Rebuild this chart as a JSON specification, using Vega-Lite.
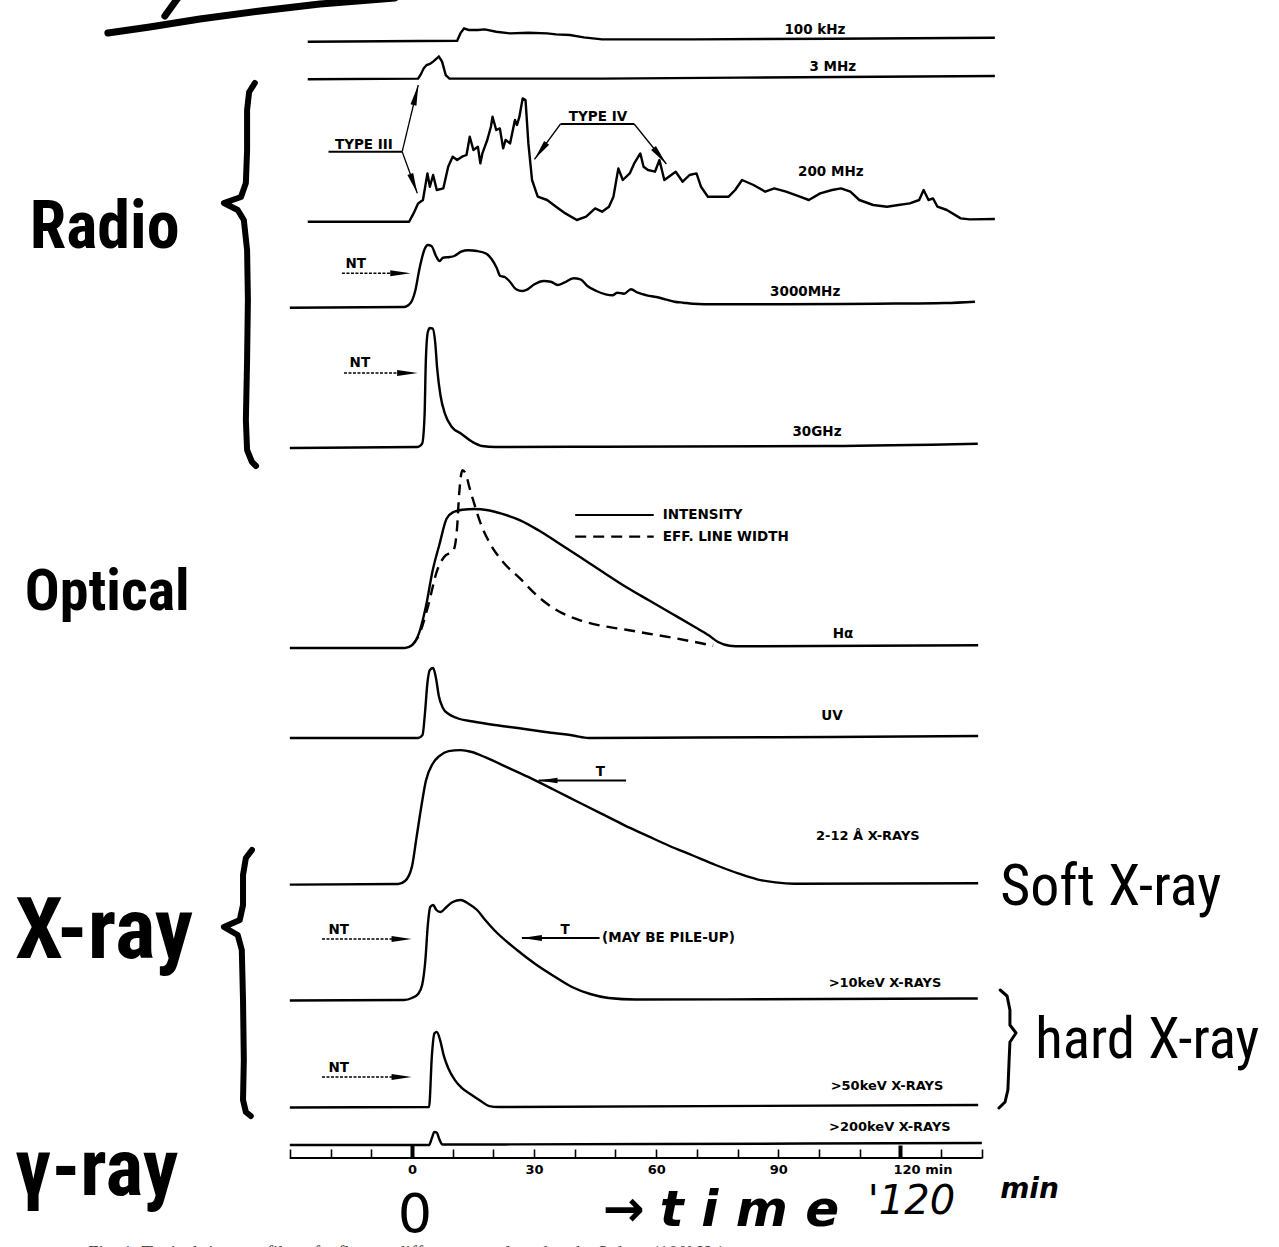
{
  "$schema": "https://vega.github.io/schema/vega-lite/v6.json",
  "background": "white",
  "padding": 0,
  "spacing": 0,
  "bounds": "flush",
  "config": {"view": {"stroke": null}},
  "datasets": {
    "f100kHz": [
      {"t": -25.6, "v": 0}, {"t": 11.1, "v": 1}, {"t": 11.9, "v": 8.3}, {"t": 12.8, "v": 13.3},
      {"t": 13.9, "v": 11.7}, {"t": 16.2, "v": 11.7}, {"t": 17.9, "v": 12.3}, {"t": 20.7, "v": 10},
      {"t": 24.1, "v": 8.3}, {"t": 28.6, "v": 9}, {"t": 33.2, "v": 8.3}, {"t": 35.4, "v": 7.3},
      {"t": 38.8, "v": 6.7}, {"t": 42.2, "v": 4.3}, {"t": 46.7, "v": 2.3}, {"t": 69.3, "v": 2.3},
      {"t": 103.2, "v": 3}, {"t": 143.2, "v": 4}
    ],
    "f3MHz": [
      {"t": -25.6, "v": 0}, {"t": 1.5, "v": 0.7}, {"t": 2.1, "v": 4.3}, {"t": 2.9, "v": 11},
      {"t": 3.6, "v": 14.3}, {"t": 4.4, "v": 15.3}, {"t": 5.2, "v": 17.7}, {"t": 6.6, "v": 22.7},
      {"t": 7.4, "v": 17.7}, {"t": 8.3, "v": 4.3}, {"t": 9.2, "v": 0.7}, {"t": 46.7, "v": 0.7},
      {"t": 80.6, "v": 1.7}, {"t": 143.2, "v": 3.3}
    ],
    "f200MHz": [
      {"t": -25.6, "v": 0}, {"t": -0.7, "v": 0}, {"t": 0.4, "v": 8.3}, {"t": 1.5, "v": 18.3},
      {"t": 2.7, "v": 21.7}, {"t": 3.8, "v": 48.3}, {"t": 4.4, "v": 35}, {"t": 5.2, "v": 46.7},
      {"t": 6.1, "v": 31.7}, {"t": 7.7, "v": 33.3}, {"t": 8.9, "v": 55}, {"t": 10.0, "v": 65},
      {"t": 11.1, "v": 61.7}, {"t": 12.3, "v": 65}, {"t": 13.4, "v": 66.7}, {"t": 14.2, "v": 85},
      {"t": 15.1, "v": 71.7}, {"t": 16.2, "v": 75}, {"t": 16.8, "v": 58.3}, {"t": 17.3, "v": 68.3},
      {"t": 18.5, "v": 81.7}, {"t": 19.4, "v": 95}, {"t": 19.8, "v": 105}, {"t": 20.7, "v": 91.7},
      {"t": 21.6, "v": 93.3}, {"t": 22.4, "v": 73.3}, {"t": 23.0, "v": 81.7}, {"t": 24.1, "v": 78.3},
      {"t": 25.3, "v": 101.7}, {"t": 25.8, "v": 96.7}, {"t": 26.4, "v": 105}, {"t": 27.2, "v": 123.3},
      {"t": 27.9, "v": 121.7}, {"t": 28.6, "v": 78.3}, {"t": 29.5, "v": 41.7}, {"t": 30.9, "v": 25},
      {"t": 33.2, "v": 21.7}, {"t": 35.4, "v": 15}, {"t": 37.7, "v": 8.3}, {"t": 40.5, "v": 1.7},
      {"t": 42.8, "v": 5}, {"t": 45.0, "v": 13.3}, {"t": 46.7, "v": 10}, {"t": 48.4, "v": 15},
      {"t": 49.5, "v": 25}, {"t": 50.7, "v": 53.3}, {"t": 51.8, "v": 41.7}, {"t": 53.5, "v": 48.3},
      {"t": 54.6, "v": 58.3}, {"t": 56.1, "v": 68.3}, {"t": 56.9, "v": 55}, {"t": 58.0, "v": 51.7},
      {"t": 59.7, "v": 50}, {"t": 60.8, "v": 61.7}, {"t": 62.0, "v": 41.7}, {"t": 64.8, "v": 50},
      {"t": 66.5, "v": 40}, {"t": 68.2, "v": 46.7}, {"t": 69.9, "v": 48.3}, {"t": 71.0, "v": 35},
      {"t": 72.7, "v": 25}, {"t": 76.1, "v": 25}, {"t": 77.8, "v": 25}, {"t": 79.4, "v": 31.7},
      {"t": 81.1, "v": 41.7}, {"t": 83.9, "v": 36.7}, {"t": 86.8, "v": 30}, {"t": 89.0, "v": 33.3},
      {"t": 91.9, "v": 30}, {"t": 95.3, "v": 25}, {"t": 97.5, "v": 21.7}, {"t": 100.3, "v": 28.3},
      {"t": 103.2, "v": 31.7}, {"t": 105.4, "v": 33.3}, {"t": 107.7, "v": 30}, {"t": 109.9, "v": 21.7},
      {"t": 113.3, "v": 16.7}, {"t": 116.7, "v": 15}, {"t": 119.5, "v": 16.7}, {"t": 122.3, "v": 18.3},
      {"t": 124.6, "v": 21.7}, {"t": 125.7, "v": 31.7}, {"t": 126.9, "v": 21.7}, {"t": 128.0, "v": 23.3},
      {"t": 129.1, "v": 15}, {"t": 131.4, "v": 11.7}, {"t": 134.8, "v": 3.3}, {"t": 137.0, "v": 2.3},
      {"t": 143.2, "v": 2.7}
    ],
    "f3000MHz": [
      {"t": -30, "v": -0.7}, {"t": -2.0, "v": 0}, {"t": -0.3, "v": 4.3}, {"t": 0.8, "v": 16},
      {"t": 1.9, "v": 39.3}, {"t": 3.1, "v": 57.7}, {"t": 3.9, "v": 62}, {"t": 4.8, "v": 61},
      {"t": 5.9, "v": 51}, {"t": 6.8, "v": 46}, {"t": 7.6, "v": 49.3}, {"t": 9.3, "v": 50},
      {"t": 10.4, "v": 51}, {"t": 12.1, "v": 55.3}, {"t": 13.8, "v": 56.7}, {"t": 16.0, "v": 56},
      {"t": 18.3, "v": 53.3}, {"t": 19.6, "v": 47.7}, {"t": 20.8, "v": 39.3}, {"t": 21.7, "v": 31},
      {"t": 22.8, "v": 30}, {"t": 23.9, "v": 26}, {"t": 25.6, "v": 17.7}, {"t": 27.1, "v": 16},
      {"t": 28.4, "v": 17.7}, {"t": 30.1, "v": 22.7}, {"t": 32.4, "v": 26}, {"t": 34.1, "v": 25.3},
      {"t": 35.8, "v": 22}, {"t": 37.4, "v": 24.3}, {"t": 39.7, "v": 28.7}, {"t": 41.4, "v": 27.7},
      {"t": 43.1, "v": 21}, {"t": 45.3, "v": 16}, {"t": 47.6, "v": 12.7}, {"t": 49.3, "v": 11.7},
      {"t": 50.4, "v": 14.3}, {"t": 52.1, "v": 13.3}, {"t": 53.8, "v": 17.7}, {"t": 55.5, "v": 14.3},
      {"t": 57.7, "v": 11.7}, {"t": 60.0, "v": 10}, {"t": 62.2, "v": 7.7}, {"t": 64.5, "v": 5.3},
      {"t": 66.7, "v": 4.3}, {"t": 69.0, "v": 3.3}, {"t": 74.6, "v": 2.7}, {"t": 91.5, "v": 2.7},
      {"t": 114.1, "v": 3.3}, {"t": 131.0, "v": 4}, {"t": 138.3, "v": 5.3}
    ],
    "f30GHz": [
      {"t": -30, "v": -1}, {"t": 1.4, "v": 0}, {"t": 2.5, "v": 3.3}, {"t": 3.1, "v": 31.7},
      {"t": 3.4, "v": 85}, {"t": 3.9, "v": 115}, {"t": 4.4, "v": 119}, {"t": 5.1, "v": 118.3},
      {"t": 5.7, "v": 105}, {"t": 6.2, "v": 78.3}, {"t": 7.0, "v": 51.7}, {"t": 8.1, "v": 33.3},
      {"t": 9.8, "v": 20}, {"t": 12.1, "v": 13.3}, {"t": 14.9, "v": 5}, {"t": 17.2, "v": 1},
      {"t": 20.5, "v": 0}, {"t": 46.5, "v": 0.3}, {"t": 102.8, "v": 1}, {"t": 139, "v": 3.3}
    ],
    "fHaIntensity": [
      {"t": -30, "v": -1}, {"t": -1.7, "v": -1}, {"t": 0, "v": 1.7}, {"t": 1.7, "v": 13.3},
      {"t": 3.4, "v": 40}, {"t": 5.1, "v": 76.7}, {"t": 6.8, "v": 103.3}, {"t": 8.5, "v": 128.3},
      {"t": 10.2, "v": 135}, {"t": 12.4, "v": 137.3}, {"t": 15.3, "v": 138}, {"t": 18.7, "v": 136.7},
      {"t": 22.0, "v": 133.3}, {"t": 26.6, "v": 126.7}, {"t": 31.1, "v": 116.7}, {"t": 35.6, "v": 105},
      {"t": 41.3, "v": 90}, {"t": 46.9, "v": 75}, {"t": 52.6, "v": 60}, {"t": 58.2, "v": 46.7},
      {"t": 63.9, "v": 33.3}, {"t": 69.5, "v": 20}, {"t": 72.9, "v": 11.7}, {"t": 75.2, "v": 5},
      {"t": 78.0, "v": 1.3}, {"t": 80.9, "v": 0.7}, {"t": 139.1, "v": 1.7}
    ],
    "fHaWidth": [
      {"t": 0, "v": 1.7}, {"t": 1.7, "v": 11.7}, {"t": 3.9, "v": 40}, {"t": 6.2, "v": 76.7},
      {"t": 7.9, "v": 90}, {"t": 10.2, "v": 96.7}, {"t": 11.1, "v": 120}, {"t": 11.6, "v": 153.3},
      {"t": 12.4, "v": 176.7}, {"t": 13.2, "v": 173.3}, {"t": 14.1, "v": 160}, {"t": 15.3, "v": 143.3},
      {"t": 16.9, "v": 123.3}, {"t": 19.2, "v": 103.3}, {"t": 22.0, "v": 86.7}, {"t": 26.6, "v": 68.3},
      {"t": 31.1, "v": 50}, {"t": 35.6, "v": 36.7}, {"t": 41.3, "v": 26.7}, {"t": 46.9, "v": 21},
      {"t": 52.6, "v": 17.3}, {"t": 58.2, "v": 13.3}, {"t": 63.9, "v": 9.3}, {"t": 69.5, "v": 5},
      {"t": 74.0, "v": 1.3}
    ],
    "fUV": [
      {"t": -30, "v": 0}, {"t": 1.5, "v": 0}, {"t": 2.6, "v": 3}, {"t": 3.2, "v": 25},
      {"t": 3.8, "v": 55}, {"t": 4.4, "v": 68}, {"t": 5.2, "v": 70}, {"t": 5.9, "v": 60},
      {"t": 6.6, "v": 42}, {"t": 7.6, "v": 30}, {"t": 9, "v": 24}, {"t": 11, "v": 20},
      {"t": 15, "v": 16.5}, {"t": 20.3, "v": 13}, {"t": 26, "v": 10}, {"t": 32.8, "v": 6},
      {"t": 39.6, "v": 2.5}, {"t": 43.5, "v": 0}, {"t": 70, "v": 0.5}, {"t": 103, "v": 1},
      {"t": 139.1, "v": 2}
    ],
    "fSXR": [
      {"t": -30, "v": -0.6}, {"t": -3.4, "v": 0}, {"t": -1.7, "v": 3}, {"t": 0, "v": 17.4},
      {"t": 1.1, "v": 45.9}, {"t": 2.3, "v": 77.5}, {"t": 3.4, "v": 102.8}, {"t": 5.1, "v": 120.3},
      {"t": 6.8, "v": 128.2}, {"t": 9.0, "v": 132.9}, {"t": 11.9, "v": 133.9}, {"t": 14.7, "v": 132},
      {"t": 18.1, "v": 126.6}, {"t": 23.7, "v": 116.1}, {"t": 29.4, "v": 105.4}, {"t": 35.0, "v": 94},
      {"t": 40.7, "v": 82.3}, {"t": 46.4, "v": 70.6}, {"t": 52.0, "v": 59.2}, {"t": 57.7, "v": 48.4},
      {"t": 63.3, "v": 38}, {"t": 69.0, "v": 28.5}, {"t": 74.6, "v": 19}, {"t": 80.3, "v": 10.4},
      {"t": 84.8, "v": 4.7}, {"t": 89.3, "v": 1.6}, {"t": 93.9, "v": 0.3}, {"t": 139.1, "v": 0.8}
    ],
    "f10keV": [
      {"t": -30, "v": -0.5}, {"t": -2, "v": 0}, {"t": 0, "v": 2}, {"t": 1.5, "v": 6},
      {"t": 2.5, "v": 15}, {"t": 3.3, "v": 40}, {"t": 3.9, "v": 75}, {"t": 4.5, "v": 93},
      {"t": 5.2, "v": 95}, {"t": 6, "v": 90}, {"t": 7, "v": 88}, {"t": 8.5, "v": 93},
      {"t": 10, "v": 98}, {"t": 12, "v": 100}, {"t": 14, "v": 96}, {"t": 16, "v": 90},
      {"t": 18, "v": 80}, {"t": 20.2, "v": 70}, {"t": 25.8, "v": 50}, {"t": 30.3, "v": 36},
      {"t": 34.8, "v": 24}, {"t": 39.3, "v": 13}, {"t": 43.8, "v": 6}, {"t": 48.3, "v": 2},
      {"t": 55, "v": 0.5}, {"t": 139, "v": 1.5}
    ],
    "f50keV": [
      {"t": -30, "v": -0.5}, {"t": 4.2, "v": 0}, {"t": 4.9, "v": 51.6}, {"t": 5.5, "v": 73.4},
      {"t": 6.1, "v": 75}, {"t": 6.9, "v": 67.2}, {"t": 7.8, "v": 51.6}, {"t": 8.9, "v": 39},
      {"t": 10.6, "v": 26.6}, {"t": 12.3, "v": 18.8}, {"t": 14.5, "v": 12.5}, {"t": 16.8, "v": 6.3},
      {"t": 19.0, "v": 0.9}, {"t": 21.3, "v": 0}, {"t": 139.1, "v": 2}
    ],
    "f200keV": [
      {"t": -30, "v": 0}, {"t": 4.2, "v": 0}, {"t": 4.9, "v": 7}, {"t": 5.5, "v": 13},
      {"t": 6.1, "v": 12.5}, {"t": 6.7, "v": 6}, {"t": 7.5, "v": 0.5}, {"t": 60, "v": 1},
      {"t": 140, "v": 2}
    ],
    "labels": [
      {"band": "100 kHz", "t": 99.0, "v": 11.7, "text": "100 kHz"},
      {"band": "3 MHz", "t": 103.4, "v": 12.3, "text": "3 MHz"},
      {"band": "200 MHz", "t": 102.9, "v": 49.7, "text": "200 MHz"},
      {"band": "3000MHz", "t": 96.6, "v": 15, "text": "3000MHz"},
      {"band": "30GHz", "t": 99.5, "v": 15, "text": "30GHz"},
      {"band": "Hα", "t": 105.9, "v": 13, "text": "Hα"},
      {"band": "UV", "t": 103.2, "v": 22, "text": "UV"},
      {"band": "2-12", "t": 112, "v": 48, "text": "2-12 Å X-RAYS"},
      {"band": "10keV", "t": 116.2, "v": 17, "text": ">10keV X-RAYS"},
      {"band": "50keV", "t": 116.7, "v": 21, "text": ">50keV X-RAYS"},
      {"band": "200keV", "t": 117.4, "v": 18, "text": ">200keV X-RAYS"}
    ],
    "notes": [
      {"band": "200 MHz", "t": -11.8, "v": 72.5, "text": "TYPE III"},
      {"band": "200 MHz", "t": 45.7, "v": 100.5, "text": "TYPE IV"},
      {"band": "3000MHz", "t": -13.8, "v": 39, "text": "NT"},
      {"band": "30GHz", "t": -12.8, "v": 80, "text": "NT"},
      {"band": "2-12", "t": 46.3, "v": 108, "text": "T"},
      {"band": "10keV", "t": -18, "v": 66, "text": "NT"},
      {"band": "10keV", "t": 37.6, "v": 66, "text": "T"},
      {"band": "50keV", "t": -18, "v": 35, "text": "NT"}
    ],
    "keys": [
      {"band": "Hα", "t": 61.6, "v": 132, "text": "INTENSITY"},
      {"band": "Hα", "t": 61.6, "v": 110.3, "text": "EFF. LINE WIDTH"},
      {"band": "10keV", "t": 46.7, "v": 62, "text": "(MAY BE PILE-UP)"}
    ],
    "segs": [
      {"band": "200 MHz", "kind": "under", "t": -20.5, "v": 70, "t2": -2.4, "v2": 70},
      {"band": "200 MHz", "kind": "thin", "t": -2.4, "v": 70, "t2": 1.55, "v2": 136.7},
      {"band": "200 MHz", "kind": "thin", "t": -2.4, "v": 70, "t2": 1.32, "v2": 28.4},
      {"band": "200 MHz", "kind": "under", "t": 36.5, "v": 97.7, "t2": 54.6, "v2": 97.7},
      {"band": "200 MHz", "kind": "thin", "t": 36.5, "v": 97.7, "t2": 30.1, "v2": 62.4},
      {"band": "200 MHz", "kind": "thin", "t": 54.6, "v": 97.7, "t2": 62.5, "v2": 57.7},
      {"band": "3000MHz", "kind": "dot", "t": -17.2, "v": 33.7, "t2": -3, "v2": 33.7},
      {"band": "30GHz", "kind": "dot", "t": -16.7, "v": 74, "t2": -1.5, "v2": 74},
      {"band": "Hα", "kind": "solid", "t": 40.1, "v": 132, "t2": 59.4, "v2": 132},
      {"band": "Hα", "kind": "dash", "t": 40.1, "v": 110.3, "t2": 59.4, "v2": 110.3},
      {"band": "2-12", "kind": "solid", "t": 31.1, "v": 103.5, "t2": 52.6, "v2": 103.5},
      {"band": "10keV", "kind": "dot", "t": -22.1, "v": 61, "t2": -3, "v2": 61},
      {"band": "10keV", "kind": "solid", "t": 27, "v": 62, "t2": 46.1, "v2": 62},
      {"band": "50keV", "kind": "dot", "t": -22.1, "v": 30, "t2": -3, "v2": 30},
      {"band": "200keV", "kind": "axis", "t": -30, "v": -13, "t2": 140, "v2": -13}
    ],
    "heads": [
      {"band": "200 MHz", "t": 1.55, "v": 136.7, "angle": -76.4},
      {"band": "200 MHz", "t": 1.32, "v": 28.4, "angle": 70.0},
      {"band": "200 MHz", "t": 30.1, "v": 62.4, "angle": 126.4},
      {"band": "200 MHz", "t": 62.5, "v": 57.7, "angle": 51.2},
      {"band": "3000MHz", "t": -0.3, "v": 33.7, "angle": 0},
      {"band": "30GHz", "t": 1.4, "v": 74, "angle": 0},
      {"band": "2-12", "t": 31.1, "v": 103.5, "angle": 180},
      {"band": "10keV", "t": -0.1, "v": 61, "angle": 0},
      {"band": "10keV", "t": 27, "v": 62, "angle": 180},
      {"band": "50keV", "t": -0.1, "v": 30, "angle": 0}
    ],
    "strokes": [
      {"id": "pen1", "o": 1, "t": -74.7, "v": 8.7}, {"id": "pen1", "o": 2, "t": -64.4, "v": 14.7},
      {"id": "pen1", "o": 3, "t": -52.1, "v": 22.7}, {"id": "pen1", "o": 4, "t": -37.3, "v": 30.7},
      {"id": "pen1", "o": 5, "t": -22.6, "v": 37.7}, {"id": "pen1", "o": 6, "t": -4.2, "v": 43.7},
      {"id": "pen2", "o": 1, "t": -60.7, "v": 25.7}, {"id": "pen2", "o": 2, "t": -57.5, "v": 43.7},
      {"id": "radio", "o": 1, "t": -38.6, "v": 138.7}, {"id": "radio", "o": 2, "t": -40.0, "v": 129.7},
      {"id": "radio", "o": 3, "t": -40.5, "v": 111.7}, {"id": "radio", "o": 4, "t": -40.5, "v": 71.7},
      {"id": "radio", "o": 5, "t": -40.8, "v": 38.7}, {"id": "radio", "o": 6, "t": -42.0, "v": 24.7},
      {"id": "radio", "o": 7, "t": -46.2, "v": 18.7}, {"id": "radio", "o": 8, "t": -42.8, "v": 11.7},
      {"id": "radio", "o": 9, "t": -41.3, "v": 1.7}, {"id": "radio", "o": 10, "t": -40.5, "v": -28.3},
      {"id": "radio", "o": 11, "t": -40.3, "v": -78.3}, {"id": "radio", "o": 12, "t": -40.5, "v": -138.3},
      {"id": "radio", "o": 13, "t": -40.8, "v": -198.3}, {"id": "radio", "o": 14, "t": -40.5, "v": -228.3},
      {"id": "radio", "o": 15, "t": -39.3, "v": -240.3}, {"id": "radio", "o": 16, "t": -38.3, "v": -244.3},
      {"id": "xray", "o": 1, "t": -39.3, "v": 150}, {"id": "xray", "o": 2, "t": -40.8, "v": 142},
      {"id": "xray", "o": 3, "t": -41.5, "v": 125}, {"id": "xray", "o": 4, "t": -41.5, "v": 95},
      {"id": "xray", "o": 5, "t": -42.3, "v": 80}, {"id": "xray", "o": 6, "t": -46.2, "v": 73},
      {"id": "xray", "o": 7, "t": -42.8, "v": 65}, {"id": "xray", "o": 8, "t": -41.8, "v": 50},
      {"id": "xray", "o": 9, "t": -41.5, "v": 0}, {"id": "xray", "o": 10, "t": -41.3, "v": -60},
      {"id": "xray", "o": 11, "t": -41.5, "v": -100}, {"id": "xray", "o": 12, "t": -40.8, "v": -112},
      {"id": "xray", "o": 13, "t": -39.6, "v": -116},
      {"id": "hard", "o": 1, "t": 144.5, "v": 117}, {"id": "hard", "o": 2, "t": 146.2, "v": 111},
      {"id": "hard", "o": 3, "t": 146.9, "v": 97}, {"id": "hard", "o": 4, "t": 146.9, "v": 82},
      {"id": "hard", "o": 5, "t": 148.4, "v": 74}, {"id": "hard", "o": 6, "t": 146.9, "v": 65},
      {"id": "hard", "o": 7, "t": 146.7, "v": 47}, {"id": "hard", "o": 8, "t": 146.4, "v": 17},
      {"id": "hard", "o": 9, "t": 145.7, "v": 5}, {"id": "hard", "o": 10, "t": 144.2, "v": -1}
    ],
    "hand": [
      {"t": -93.9, "v": -26.3, "text": "Radio"},
      {"t": -95.1, "v": 37, "text": "Optical"},
      {"t": -97.5, "v": 42, "text": "X-ray"},
      {"t": -97.5, "v": 52, "text": "γ-ray"},
      {"t": 144.5, "v": -21, "text": "Soft X-ray"},
      {"t": 153.1, "v": 49, "text": "hard X-ray"},
      {"t": 0.7, "v": 15, "text": "0"},
      {"t": 46.9, "v": 36, "text": "→"},
      {"t": 60.9, "v": 21, "text": "t i m e"},
      {"t": 112, "v": 33, "text": "'120"},
      {"t": 144.5, "v": 49, "text": "min"},
      {"t": -79.6, "v": -12, "text": "Fig. 1. Typical time profiles of a flare at different wavelengths; the 3 days (100kHz)"}
    ]
  },
  "vconcat": [
    {
      "width": 1279, "height": 50,
      "encoding": {
        "x": {"field": "t", "type": "quantitative", "scale": {"domain": [-101.2, 213], "nice": false, "zero": false}, "axis": null},
        "y": {"field": "v", "type": "quantitative", "scale": {"domain": [-8.3, 41.7], "nice": false, "zero": false}, "axis": null}
      },
      "layer": [
        {"data": {"name": "f100kHz"}, "mark": {"type": "line", "color": "#000", "strokeWidth": 2.4, "interpolate": "linear"}},
        {"data": {"name": "labels"}, "transform": [{"filter": "datum.band === '100 kHz'"}],
         "mark": {"type": "text", "font": "DejaVu Sans", "fontWeight": "bold", "fontSize": 13.5, "align": "center", "baseline": "middle", "color": "#000"},
         "encoding": {"text": {"field": "text"}}},
        {"data": {"name": "strokes"}, "transform": [{"filter": "datum.id === 'pen1' || datum.id === 'pen2'"}],
         "mark": {"type": "line", "color": "#000", "strokeWidth": 7, "strokeCap": "round", "strokeJoin": "round", "clip": true},
         "encoding": {"detail": {"field": "id"}, "order": {"field": "o", "type": "quantitative"}}}
      ]
    },
    {
      "width": 1279, "height": 38,
      "encoding": {
        "x": {"field": "t", "type": "quantitative", "scale": {"domain": [-101.2, 213], "nice": false, "zero": false}, "axis": null},
        "y": {"field": "v", "type": "quantitative", "scale": {"domain": [-8.7, 29.3], "nice": false, "zero": false}, "axis": null}
      },
      "layer": [
        {"data": {"name": "f3MHz"}, "mark": {"type": "line", "color": "#000", "strokeWidth": 2.4, "interpolate": "linear"}},
        {"data": {"name": "labels"}, "transform": [{"filter": "datum.band === '3 MHz'"}],
         "mark": {"type": "text", "font": "DejaVu Sans", "fontWeight": "bold", "fontSize": 13.5, "align": "center", "baseline": "middle", "color": "#000"},
         "encoding": {"text": {"field": "text"}}}
      ]
    },
    {
      "width": 1279, "height": 144,
      "encoding": {
        "x": {"field": "t", "type": "quantitative", "scale": {"domain": [-101.2, 213], "nice": false, "zero": false}, "axis": null},
        "y": {"field": "v", "type": "quantitative", "scale": {"domain": [-10.3, 133.7], "nice": false, "zero": false}, "axis": null}
      },
      "layer": [
        {"data": {"name": "f200MHz"}, "mark": {"type": "line", "color": "#000", "strokeWidth": 2.4, "interpolate": "linear", "strokeJoin": "round"}},
        {"data": {"name": "labels"}, "transform": [{"filter": "datum.band === '200 MHz'"}],
         "mark": {"type": "text", "font": "DejaVu Sans", "fontWeight": "bold", "fontSize": 13.5, "align": "center", "baseline": "middle", "color": "#000"},
         "encoding": {"text": {"field": "text"}}},
        {"data": {"name": "segs"}, "transform": [{"filter": "datum.band === '200 MHz' && datum.kind === 'thin'"}],
         "mark": {"type": "rule", "color": "#000", "strokeWidth": 1.3},
         "encoding": {"x2": {"field": "t2"}, "y2": {"field": "v2"}}},
        {"data": {"name": "segs"}, "transform": [{"filter": "datum.band === '200 MHz' && datum.kind === 'under'"}],
         "mark": {"type": "rule", "color": "#000", "strokeWidth": 2},
         "encoding": {"x2": {"field": "t2"}, "y2": {"field": "v2"}}},
        {"data": {"name": "heads"}, "transform": [{"filter": "datum.band === '200 MHz'"}],
         "mark": {"type": "point", "shape": "M0,0L-2,-0.3L-2,0.3Z", "filled": true, "size": 420, "color": "#000", "opacity": 1},
         "encoding": {"angle": {"field": "angle", "type": "quantitative", "scale": null}}},
        {"data": {"name": "notes"}, "transform": [{"filter": "datum.band === '200 MHz'"}],
         "mark": {"type": "text", "font": "DejaVu Sans", "fontWeight": "bold", "fontSize": 13.5, "align": "center", "baseline": "alphabetic", "color": "#000"},
         "encoding": {"text": {"field": "text"}}},
        {"data": {"name": "strokes"}, "transform": [{"filter": "datum.id === 'radio'"}],
         "mark": {"type": "line", "color": "#000", "strokeWidth": 6, "strokeCap": "round", "strokeJoin": "round"},
         "encoding": {"order": {"field": "o", "type": "quantitative"}}},
        {"data": {"name": "hand"}, "transform": [{"filter": "datum.text === 'Radio'"}],
         "mark": {"type": "text", "font": "Liberation Sans Narrow, Roboto Condensed, DejaVu Sans Condensed, Liberation Sans", "fontWeight": "bold", "fontSize": 66, "align": "left", "baseline": "alphabetic", "color": "#000"},
         "encoding": {"text": {"field": "text"}}}
      ]
    },
    {
      "width": 1279, "height": 83,
      "encoding": {
        "x": {"field": "t", "type": "quantitative", "scale": {"domain": [-101.2, 213], "nice": false, "zero": false}, "axis": null},
        "y": {"field": "v", "type": "quantitative", "scale": {"domain": [-8, 75], "nice": false, "zero": false}, "axis": null}
      },
      "layer": [
        {"data": {"name": "f3000MHz"}, "mark": {"type": "line", "color": "#000", "strokeWidth": 2.4, "interpolate": "monotone"}},
        {"data": {"name": "labels"}, "transform": [{"filter": "datum.band === '3000MHz'"}],
         "mark": {"type": "text", "font": "DejaVu Sans", "fontWeight": "bold", "fontSize": 13.5, "align": "center", "baseline": "middle", "color": "#000"},
         "encoding": {"text": {"field": "text"}}},
        {"data": {"name": "segs"}, "transform": [{"filter": "datum.band === '3000MHz' && datum.kind === 'dot'"}],
         "mark": {"type": "rule", "color": "#000", "strokeWidth": 1.4, "strokeDash": [3, 1.5]},
         "encoding": {"x2": {"field": "t2"}, "y2": {"field": "v2"}}},
        {"data": {"name": "heads"}, "transform": [{"filter": "datum.band === '3000MHz'"}],
         "mark": {"type": "point", "shape": "M0,0L-2,-0.3L-2,0.3Z", "filled": true, "size": 420, "color": "#000", "opacity": 1},
         "encoding": {"angle": {"field": "angle", "type": "quantitative", "scale": null}}},
        {"data": {"name": "notes"}, "transform": [{"filter": "datum.band === '3000MHz'"}],
         "mark": {"type": "text", "font": "DejaVu Sans", "fontWeight": "bold", "fontSize": 13.5, "align": "center", "baseline": "alphabetic", "color": "#000"},
         "encoding": {"text": {"field": "text"}}}
      ]
    },
    {
      "width": 1279, "height": 141,
      "encoding": {
        "x": {"field": "t", "type": "quantitative", "scale": {"domain": [-101.2, 213], "nice": false, "zero": false}, "axis": null},
        "y": {"field": "v", "type": "quantitative", "scale": {"domain": [-9, 132], "nice": false, "zero": false}, "axis": null}
      },
      "layer": [
        {"data": {"name": "f30GHz"}, "mark": {"type": "line", "color": "#000", "strokeWidth": 2.4, "interpolate": "monotone"}},
        {"data": {"name": "labels"}, "transform": [{"filter": "datum.band === '30GHz'"}],
         "mark": {"type": "text", "font": "DejaVu Sans", "fontWeight": "bold", "fontSize": 13.5, "align": "center", "baseline": "middle", "color": "#000"},
         "encoding": {"text": {"field": "text"}}},
        {"data": {"name": "segs"}, "transform": [{"filter": "datum.band === '30GHz' && datum.kind === 'dot'"}],
         "mark": {"type": "rule", "color": "#000", "strokeWidth": 1.4, "strokeDash": [3, 1.5]},
         "encoding": {"x2": {"field": "t2"}, "y2": {"field": "v2"}}},
        {"data": {"name": "heads"}, "transform": [{"filter": "datum.band === '30GHz'"}],
         "mark": {"type": "point", "shape": "M0,0L-2,-0.3L-2,0.3Z", "filled": true, "size": 420, "color": "#000", "opacity": 1},
         "encoding": {"angle": {"field": "angle", "type": "quantitative", "scale": null}}},
        {"data": {"name": "notes"}, "transform": [{"filter": "datum.band === '30GHz'"}],
         "mark": {"type": "text", "font": "DejaVu Sans", "fontWeight": "bold", "fontSize": 13.5, "align": "center", "baseline": "alphabetic", "color": "#000"},
         "encoding": {"text": {"field": "text"}}}
      ]
    },
    {
      "width": 1279, "height": 200,
      "encoding": {
        "x": {"field": "t", "type": "quantitative", "scale": {"domain": [-101.2, 213], "nice": false, "zero": false}, "axis": null},
        "y": {"field": "v", "type": "quantitative", "scale": {"domain": [-9, 191], "nice": false, "zero": false}, "axis": null}
      },
      "layer": [
        {"data": {"name": "fHaIntensity"}, "mark": {"type": "line", "color": "#000", "strokeWidth": 2.4, "interpolate": "monotone"}},
        {"data": {"name": "fHaWidth"}, "mark": {"type": "line", "color": "#000", "strokeWidth": 2.4, "interpolate": "monotone", "strokeDash": [11, 7]}},
        {"data": {"name": "labels"}, "transform": [{"filter": "datum.band === 'Hα'"}],
         "mark": {"type": "text", "font": "DejaVu Sans", "fontWeight": "bold", "fontSize": 13.5, "align": "center", "baseline": "middle", "color": "#000"},
         "encoding": {"text": {"field": "text"}}},
        {"data": {"name": "segs"}, "transform": [{"filter": "datum.band === 'Hα' && datum.kind === 'solid'"}],
         "mark": {"type": "rule", "color": "#000", "strokeWidth": 2.2},
         "encoding": {"x2": {"field": "t2"}, "y2": {"field": "v2"}}},
        {"data": {"name": "segs"}, "transform": [{"filter": "datum.band === 'Hα' && datum.kind === 'dash'"}],
         "mark": {"type": "rule", "color": "#000", "strokeWidth": 2.2, "strokeDash": [11, 7]},
         "encoding": {"x2": {"field": "t2"}, "y2": {"field": "v2"}}},
        {"data": {"name": "keys"}, "transform": [{"filter": "datum.band === 'Hα'"}],
         "mark": {"type": "text", "font": "DejaVu Sans", "fontWeight": "bold", "fontSize": 13.5, "align": "left", "baseline": "middle", "color": "#000"},
         "encoding": {"text": {"field": "text"}}},
        {"data": {"name": "hand"}, "transform": [{"filter": "datum.text === 'Optical'"}],
         "mark": {"type": "text", "font": "Liberation Sans Narrow, Roboto Condensed, DejaVu Sans Condensed, Liberation Sans", "fontWeight": "bold", "fontSize": 58, "align": "left", "baseline": "alphabetic", "color": "#000"},
         "encoding": {"text": {"field": "text"}}}
      ]
    },
    {
      "width": 1279, "height": 90,
      "encoding": {
        "x": {"field": "t", "type": "quantitative", "scale": {"domain": [-101.2, 213], "nice": false, "zero": false}, "axis": null},
        "y": {"field": "v", "type": "quantitative", "scale": {"domain": [-8, 82], "nice": false, "zero": false}, "axis": null}
      },
      "layer": [
        {"data": {"name": "fUV"}, "mark": {"type": "line", "color": "#000", "strokeWidth": 2.4, "interpolate": "monotone"}},
        {"data": {"name": "labels"}, "transform": [{"filter": "datum.band === 'UV'"}],
         "mark": {"type": "text", "font": "DejaVu Sans", "fontWeight": "bold", "fontSize": 13.5, "align": "center", "baseline": "middle", "color": "#000"},
         "encoding": {"text": {"field": "text"}}}
      ]
    },
    {
      "width": 1279, "height": 146,
      "encoding": {
        "x": {"field": "t", "type": "quantitative", "scale": {"domain": [-101.2, 213], "nice": false, "zero": false}, "axis": null},
        "y": {"field": "v", "type": "quantitative", "scale": {"domain": [-8, 138], "nice": false, "zero": false}, "axis": null}
      },
      "layer": [
        {"data": {"name": "fSXR"}, "mark": {"type": "line", "color": "#000", "strokeWidth": 2.4, "interpolate": "monotone"}},
        {"data": {"name": "labels"}, "transform": [{"filter": "datum.band === '2-12'"}],
         "mark": {"type": "text", "font": "DejaVu Sans", "fontWeight": "bold", "fontSize": 13, "align": "center", "baseline": "middle", "color": "#000"},
         "encoding": {"text": {"field": "text"}}},
        {"data": {"name": "segs"}, "transform": [{"filter": "datum.band === '2-12' && datum.kind === 'solid'"}],
         "mark": {"type": "rule", "color": "#000", "strokeWidth": 2},
         "encoding": {"x2": {"field": "t2"}, "y2": {"field": "v2"}}},
        {"data": {"name": "heads"}, "transform": [{"filter": "datum.band === '2-12'"}],
         "mark": {"type": "point", "shape": "M0,0L-2,-0.3L-2,0.3Z", "filled": true, "size": 360, "color": "#000", "opacity": 1},
         "encoding": {"angle": {"field": "angle", "type": "quantitative", "scale": null}}},
        {"data": {"name": "notes"}, "transform": [{"filter": "datum.band === '2-12'"}],
         "mark": {"type": "text", "font": "DejaVu Sans", "fontWeight": "bold", "fontSize": 13.5, "align": "center", "baseline": "alphabetic", "color": "#000"},
         "encoding": {"text": {"field": "text"}}},
        {"data": {"name": "hand"}, "transform": [{"filter": "datum.text === 'Soft X-ray'"}],
         "mark": {"type": "text", "font": "Liberation Sans Narrow, Roboto Condensed, DejaVu Sans Condensed, Liberation Sans", "fontSize": 58, "align": "left", "baseline": "alphabetic", "color": "#000"},
         "encoding": {"text": {"field": "text"}}}
      ]
    },
    {
      "width": 1279, "height": 118,
      "encoding": {
        "x": {"field": "t", "type": "quantitative", "scale": {"domain": [-101.2, 213], "nice": false, "zero": false}, "axis": null},
        "y": {"field": "v", "type": "quantitative", "scale": {"domain": [-10, 108], "nice": false, "zero": false}, "axis": null}
      },
      "layer": [
        {"data": {"name": "f10keV"}, "mark": {"type": "line", "color": "#000", "strokeWidth": 2.4, "interpolate": "monotone"}},
        {"data": {"name": "labels"}, "transform": [{"filter": "datum.band === '10keV'"}],
         "mark": {"type": "text", "font": "DejaVu Sans", "fontWeight": "bold", "fontSize": 13, "align": "center", "baseline": "middle", "color": "#000"},
         "encoding": {"text": {"field": "text"}}},
        {"data": {"name": "segs"}, "transform": [{"filter": "datum.band === '10keV' && datum.kind === 'dot'"}],
         "mark": {"type": "rule", "color": "#000", "strokeWidth": 1.4, "strokeDash": [3, 1.5]},
         "encoding": {"x2": {"field": "t2"}, "y2": {"field": "v2"}}},
        {"data": {"name": "segs"}, "transform": [{"filter": "datum.band === '10keV' && datum.kind === 'solid'"}],
         "mark": {"type": "rule", "color": "#000", "strokeWidth": 2},
         "encoding": {"x2": {"field": "t2"}, "y2": {"field": "v2"}}},
        {"data": {"name": "heads"}, "transform": [{"filter": "datum.band === '10keV'"}],
         "mark": {"type": "point", "shape": "M0,0L-2,-0.3L-2,0.3Z", "filled": true, "size": 400, "color": "#000", "opacity": 1},
         "encoding": {"angle": {"field": "angle", "type": "quantitative", "scale": null}}},
        {"data": {"name": "notes"}, "transform": [{"filter": "datum.band === '10keV'"}],
         "mark": {"type": "text", "font": "DejaVu Sans", "fontWeight": "bold", "fontSize": 13.5, "align": "center", "baseline": "alphabetic", "color": "#000"},
         "encoding": {"text": {"field": "text"}}},
        {"data": {"name": "keys"}, "transform": [{"filter": "datum.band === '10keV'"}],
         "mark": {"type": "text", "font": "DejaVu Sans", "fontWeight": "bold", "fontSize": 13.5, "align": "left", "baseline": "middle", "color": "#000"},
         "encoding": {"text": {"field": "text"}}},
        {"data": {"name": "strokes"}, "transform": [{"filter": "datum.id === 'xray'"}],
         "mark": {"type": "line", "color": "#000", "strokeWidth": 6, "strokeCap": "round", "strokeJoin": "round"},
         "encoding": {"order": {"field": "o", "type": "quantitative"}}},
        {"data": {"name": "hand"}, "transform": [{"filter": "datum.text === 'X-ray'"}],
         "mark": {"type": "text", "font": "Liberation Sans Narrow, Roboto Condensed, DejaVu Sans Condensed, Liberation Sans", "fontWeight": "bold", "fontSize": 86, "align": "left", "baseline": "alphabetic", "color": "#000"},
         "encoding": {"text": {"field": "text"}}}
      ]
    },
    {
      "width": 1279, "height": 105,
      "encoding": {
        "x": {"field": "t", "type": "quantitative", "scale": {"domain": [-101.2, 213], "nice": false, "zero": false}, "axis": null},
        "y": {"field": "v", "type": "quantitative", "scale": {"domain": [-8, 97], "nice": false, "zero": false}, "axis": null}
      },
      "layer": [
        {"data": {"name": "f50keV"}, "mark": {"type": "line", "color": "#000", "strokeWidth": 2.4, "interpolate": "monotone"}},
        {"data": {"name": "labels"}, "transform": [{"filter": "datum.band === '50keV'"}],
         "mark": {"type": "text", "font": "DejaVu Sans", "fontWeight": "bold", "fontSize": 13, "align": "center", "baseline": "middle", "color": "#000"},
         "encoding": {"text": {"field": "text"}}},
        {"data": {"name": "segs"}, "transform": [{"filter": "datum.band === '50keV' && datum.kind === 'dot'"}],
         "mark": {"type": "rule", "color": "#000", "strokeWidth": 1.4, "strokeDash": [3, 1.5]},
         "encoding": {"x2": {"field": "t2"}, "y2": {"field": "v2"}}},
        {"data": {"name": "heads"}, "transform": [{"filter": "datum.band === '50keV'"}],
         "mark": {"type": "point", "shape": "M0,0L-2,-0.3L-2,0.3Z", "filled": true, "size": 400, "color": "#000", "opacity": 1},
         "encoding": {"angle": {"field": "angle", "type": "quantitative", "scale": null}}},
        {"data": {"name": "notes"}, "transform": [{"filter": "datum.band === '50keV'"}],
         "mark": {"type": "text", "font": "DejaVu Sans", "fontWeight": "bold", "fontSize": 13.5, "align": "center", "baseline": "alphabetic", "color": "#000"},
         "encoding": {"text": {"field": "text"}}},
        {"data": {"name": "strokes"}, "transform": [{"filter": "datum.id === 'hard'"}],
         "mark": {"type": "line", "color": "#000", "strokeWidth": 3, "strokeCap": "round", "strokeJoin": "round"},
         "encoding": {"order": {"field": "o", "type": "quantitative"}}},
        {"data": {"name": "hand"}, "transform": [{"filter": "datum.text === 'hard X-ray'"}],
         "mark": {"type": "text", "font": "Liberation Sans Narrow, Roboto Condensed, DejaVu Sans Condensed, Liberation Sans", "fontSize": 57, "align": "left", "baseline": "alphabetic", "color": "#000"},
         "encoding": {"text": {"field": "text"}}}
      ]
    },
    {
      "width": 1279, "height": 43,
      "encoding": {
        "x": {"field": "t", "type": "quantitative", "scale": {"domain": [-101.2, 213], "nice": false, "zero": false},
          "axis": {
            "values": [-30, -20, -10, 0, 10, 20, 30, 40, 50, 60, 70, 80, 90, 100, 110, 120, 130, 140],
            "domain": false, "grid": false, "title": null,
            "tickColor": "#000",
            "tickSize": {"condition": {"test": "datum.value === 0 || datum.value === 120", "value": -13}, "value": -9},
            "tickWidth": {"condition": {"test": "datum.value === 0 || datum.value === 120", "value": 4}, "value": 1.6},
            "labelExpr": "datum.value === 120 ? '120 min' : ((datum.value >= 0 && datum.value <= 90 && datum.value % 30 === 0) ? datum.label : '')",
            "labelFont": "DejaVu Sans", "labelFontWeight": "bold", "labelFontSize": 13, "labelColor": "#000",
            "labelPadding": {"condition": {"test": "datum.value === 0 || datum.value === 120", "value": 18}, "value": 14},
            "labelOffset": {"condition": {"test": "datum.value === 120", "value": 22}, "value": 0},
            "labelOverlap": false, "labelFlush": false, "labelBound": false
          }},
        "y": {"field": "v", "type": "quantitative", "scale": {"domain": [-13, 30], "nice": false, "zero": false}, "axis": null}
      },
      "layer": [
        {"data": {"name": "f200keV"}, "mark": {"type": "line", "color": "#000", "strokeWidth": 2.4, "interpolate": "monotone"}},
        {"data": {"name": "labels"}, "transform": [{"filter": "datum.band === '200keV'"}],
         "mark": {"type": "text", "font": "DejaVu Sans", "fontWeight": "bold", "fontSize": 13, "align": "center", "baseline": "middle", "color": "#000"},
         "encoding": {"text": {"field": "text"}}},
        {"data": {"name": "segs"}, "transform": [{"filter": "datum.band === '200keV' && datum.kind === 'axis'"}],
         "mark": {"type": "rule", "color": "#000", "strokeWidth": 2},
         "encoding": {"x2": {"field": "t2"}, "y2": {"field": "v2"}}}
      ]
    },
    {
      "width": 1279, "height": 89,
      "encoding": {
        "x": {"field": "t", "type": "quantitative", "scale": {"domain": [-101.2, 213], "nice": false, "zero": false}, "axis": null},
        "y": {"field": "v", "type": "quantitative", "scale": {"domain": [0, 89], "nice": false, "zero": false}, "axis": null}
      },
      "layer": [
        {"data": {"name": "hand"}, "transform": [{"filter": "datum.text === 'γ-ray'"}],
         "mark": {"type": "text", "font": "Liberation Sans Narrow, Roboto Condensed, DejaVu Sans Condensed, Liberation Sans", "fontWeight": "bold", "fontSize": 80, "align": "left", "baseline": "alphabetic", "color": "#000"},
         "encoding": {"text": {"field": "text"}}},
        {"data": {"name": "hand"}, "transform": [{"filter": "datum.text === '0'"}],
         "mark": {"type": "text", "font": "DejaVu Sans", "fontSize": 54, "align": "center", "baseline": "alphabetic", "color": "#000"},
         "encoding": {"text": {"field": "text"}}},
        {"data": {"name": "hand"}, "transform": [{"filter": "datum.text === '→'"}],
         "mark": {"type": "text", "font": "DejaVu Sans", "fontWeight": "bold", "fontSize": 50, "align": "left", "baseline": "middle", "color": "#000"},
         "encoding": {"text": {"field": "text"}}},
        {"data": {"name": "hand"}, "transform": [{"filter": "datum.text === 't i m e'"}],
         "mark": {"type": "text", "font": "DejaVu Sans", "fontWeight": "bold", "fontStyle": "italic", "fontSize": 50, "align": "left", "baseline": "alphabetic", "color": "#000"},
         "encoding": {"text": {"field": "text"}}},
        {"data": {"name": "hand"}, "transform": [{"filter": "datum.text === \"'120\""}],
         "mark": {"type": "text", "font": "DejaVu Sans", "fontStyle": "italic", "fontSize": 40, "align": "left", "baseline": "alphabetic", "color": "#000"},
         "encoding": {"text": {"field": "text"}}},
        {"data": {"name": "hand"}, "transform": [{"filter": "datum.text === 'min'"}],
         "mark": {"type": "text", "font": "DejaVu Sans", "fontWeight": "bold", "fontStyle": "italic", "fontSize": 28, "align": "left", "baseline": "alphabetic", "color": "#000"},
         "encoding": {"text": {"field": "text"}}},
        {"data": {"name": "hand"}, "transform": [{"filter": "indexof(datum.text, 'Fig. 1.') === 0"}],
         "mark": {"type": "text", "font": "Liberation Serif", "fontSize": 19, "align": "left", "baseline": "alphabetic", "color": "#444", "clip": true},
         "encoding": {"text": {"field": "text"}}}
      ]
    }
  ]
}
